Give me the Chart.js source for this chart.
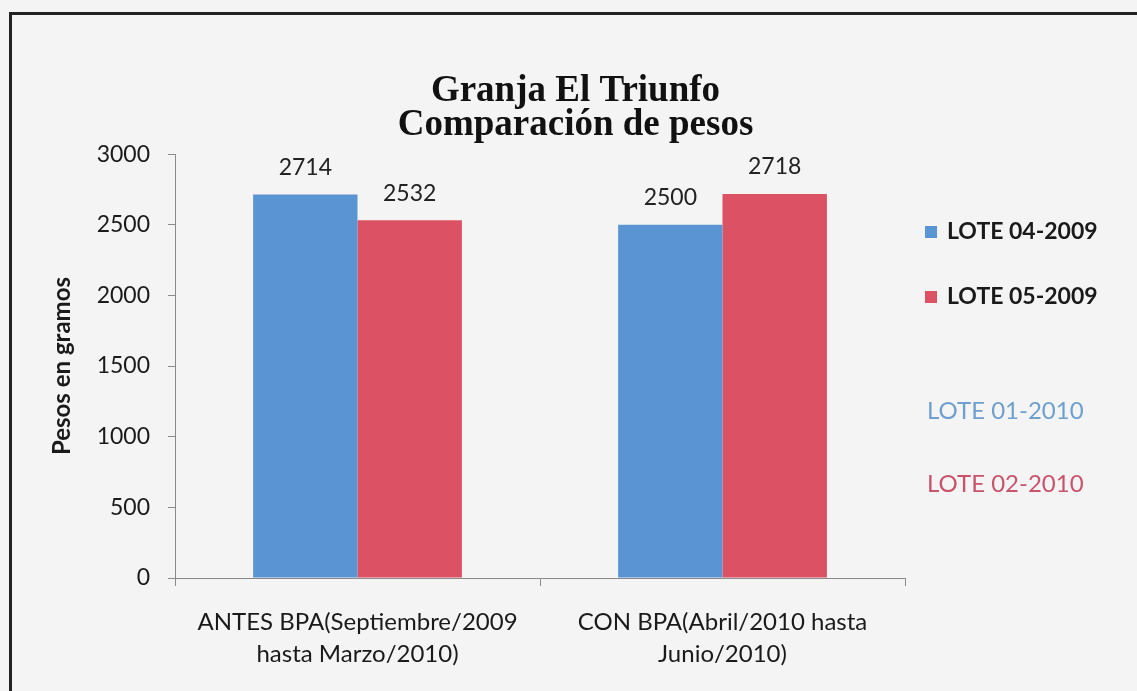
<!DOCTYPE html>
<html>
<head>
<meta charset="utf-8">
<script src="https://cdn.jsdelivr.net/npm/chart.js@4.4.1/dist/chart.umd.min.js"></script>
<style>
  html, body { margin: 0; padding: 0; background: #f4f4f4; }
  #wrap { position: relative; width: 1137px; height: 691px; }
  canvas { display: block; }
</style>
</head>
<body>
<div id="wrap"><canvas id="c" width="1137" height="691"></canvas></div>
<script>
// ---- data ----
const titleLines = ['Granja El Triunfo', 'Comparación de pesos'];
const categories = [
  ['ANTES BPA(Septiembre/2009', 'hasta Marzo/2010)'],
  ['CON BPA(Abril/2010 hasta', 'Junio/2010)']
];
const seriesNames = ['LOTE 04-2009', 'LOTE 05-2009'];
const lote1Values = [2714, 2500];
const lote2Values = [2532, 2718];
const noteLabels = ['LOTE 01-2010', 'LOTE 02-2010'];
const yTitle = 'Pesos en gramos';
const yMin = 0, yMax = 3000, yStep = 500;

// ---- styles ----
const blue = '#5b94d2';
const red = '#dc5164';
const noteColors = ['#6d9fcf', '#c9536b'];
const sans = 'Lato, "Open Sans", sans-serif';

const bgPlugin = {
  id: 'bg',
  beforeDraw(chart) {
    const ctx = chart.ctx;
    ctx.save();
    ctx.fillStyle = '#f4f4f4';
    ctx.fillRect(0, 0, chart.width, chart.height);
    ctx.strokeStyle = '#222';
    ctx.lineWidth = 3;
    ctx.beginPath();
    ctx.moveTo(10.5, chart.height + 2);
    ctx.lineTo(10.5, 13.5);
    ctx.lineTo(chart.width + 2, 13.5);
    ctx.stroke();
    ctx.restore();
  }
};

const valueLabels = {
  id: 'valueLabels',
  afterDatasetsDraw(chart) {
    const ctx = chart.ctx;
    ctx.save();
    ctx.font = '23px ' + sans;
    ctx.fillStyle = '#222';
    ctx.textAlign = 'center';
    ctx.textBaseline = 'middle';
    chart.data.datasets.forEach((ds, i) => {
      const meta = chart.getDatasetMeta(i);
      meta.data.forEach((bar, j) => {
        ctx.fillText(String(ds.data[j]), bar.x, bar.y - 27);
      });
    });
    ctx.restore();
  }
};

const customLegend = {
  id: 'customLegend',
  afterDraw(chart) {
    const ctx = chart.ctx;
    const x0 = chart.chartArea.right + 20;
    ctx.save();
    ctx.textBaseline = 'middle';
    ctx.textAlign = 'left';
    const ys = [232, 297];
    chart.data.datasets.forEach((ds, i) => {
      ctx.fillStyle = ds.backgroundColor;
      ctx.fillRect(x0, ys[i] - 6, 12, 12);
      ctx.fillStyle = '#1a1a1a';
      ctx.font = 'bold 23px ' + sans;
      ctx.fillText(ds.label, x0 + 22, ys[i]);
    });
    const ny = [411, 484];
    noteLabels.forEach((t, i) => {
      ctx.fillStyle = noteColors[i];
      ctx.font = '24px ' + sans;
      ctx.fillText(t, x0 + 2, ny[i]);
    });
    ctx.restore();
  }
};

const padLeft = 14;
const chartBottom = 578;
const chartLeft = 175;
const chartRight = 905;

new Chart(document.getElementById('c'), {
  type: 'bar',
  data: {
    labels: categories,
    datasets: [
      { label: seriesNames[0], data: lote1Values, backgroundColor: blue },
      { label: seriesNames[1], data: lote2Values, backgroundColor: red }
    ]
  },
  options: {
    responsive: false,
    animation: false,
    layout: { padding: { left: padLeft, right: 0, top: 0, bottom: 0 } },
    datasets: { bar: { barPercentage: 1.0, categoryPercentage: 0.572 } },
    plugins: {
      legend: { display: false },
      tooltip: { enabled: false },
      title: {
        display: true,
        text: titleLines,
        color: '#111',
        font: { family: '"Liberation Serif", "Times New Roman", serif', size: 37, weight: 'bold', lineHeight: 0.92 },
        padding: { top: 74, bottom: 12 }
      }
    },
    scales: {
      x: {
        grid: { display: true, drawOnChartArea: false, drawTicks: true, tickLength: 8, offset: true, color: '#8a8a8a' },
        border: { display: true, color: '#8a8a8a' },
        ticks: { color: '#1a1a1a', font: { family: sans, size: 24, lineHeight: 1.333 }, padding: 20, maxRotation: 0 },
        afterFit(s) { s.height = 691 - chartBottom; }
      },
      y: {
        min: yMin, max: yMax,
        grid: { display: true, drawOnChartArea: false, drawTicks: true, tickLength: 7, color: '#8a8a8a' },
        border: { display: true, color: '#8a8a8a' },
        ticks: { stepSize: yStep, color: '#1a1a1a', font: { family: sans, size: 23 }, padding: 18,
                 callback: (v) => String(v) },
        title: {
          display: true, text: yTitle, color: '#1a1a1a',
          font: { family: sans, size: 24, weight: 'bold', lineHeight: 1.2 },
          padding: { top: 34, bottom: 0 }
        },
        afterFit(s) { s.width = chartLeft - padLeft; }
      },
      legendSpace: {
        position: 'right',
        display: true,
        grid: { display: false },
        border: { display: false },
        ticks: { display: false },
        afterFit(s) { s.width = 1137 - chartRight; }
      }
    }
  },
  plugins: [bgPlugin, valueLabels, customLegend]
});
</script>
</body>
</html>
